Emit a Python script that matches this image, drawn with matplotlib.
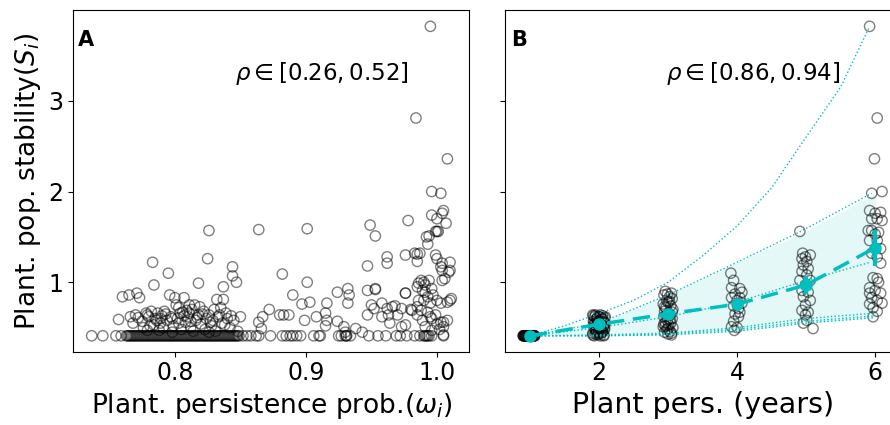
import numpy as np
import matplotlib
matplotlib.use('Agg')
import matplotlib.pyplot as plt

# ---- panel A: stability vs persistence probability ----
# points sitting on the floor value (min stability)
floor_y = 0.41
a_floor_x = [0.7365, 0.745, 0.755, 0.759, 0.763, 0.765, 0.767, 0.769, 0.771, 0.773,
             0.775, 0.777, 0.779, 0.781, 0.783, 0.785, 0.787, 0.789, 0.791, 0.793,
             0.795, 0.797, 0.799, 0.801, 0.803, 0.805, 0.807, 0.809, 0.811, 0.813,
             0.815, 0.817, 0.819, 0.821, 0.823, 0.825, 0.827, 0.829, 0.831, 0.833,
             0.835, 0.837, 0.839, 0.841, 0.843, 0.845, 0.847, 0.849, 0.852, 0.855,
             0.858, 0.862, 0.864, 0.873, 0.882, 0.885, 0.888, 0.890, 0.893, 0.896,
             0.906, 0.910, 0.911, 0.925, 0.927, 0.930, 0.931, 0.934, 0.948, 0.955,
             0.961, 0.969, 0.972, 0.977, 0.983, 0.987, 0.990, 0.992, 0.994, 0.996,
             1.005]
# second pass of the crowded floor (many species overlap there)
a_floor_x2 = [0.764, 0.766, 0.768, 0.770, 0.772, 0.774, 0.776, 0.778, 0.780, 0.782,
              0.784, 0.786, 0.788, 0.790, 0.792, 0.794, 0.796, 0.798, 0.800, 0.802,
              0.804, 0.806, 0.808, 0.810, 0.812, 0.814, 0.816, 0.818, 0.820, 0.822,
              0.824, 0.826, 0.828, 0.830, 0.832, 0.834, 0.836, 0.838, 0.840, 0.842,
              0.844, 0.846, 0.848, 0.931, 0.991, 0.993]

a_x = [0.757, 0.760, 0.765, 0.766, 0.770, 0.771, 0.773, 0.775, 0.778, 0.780,
       0.782, 0.783, 0.784, 0.785, 0.787, 0.789, 0.790, 0.792, 0.794, 0.795,
       0.796, 0.797, 0.799, 0.800, 0.801, 0.802, 0.804, 0.806, 0.807, 0.808,
       0.810, 0.811, 0.812, 0.813, 0.815, 0.816, 0.818, 0.818, 0.820, 0.822,
       0.824, 0.825, 0.826, 0.826, 0.828, 0.830, 0.832, 0.833, 0.835, 0.836,
       0.837, 0.837, 0.839, 0.840, 0.842, 0.844, 0.844, 0.845, 0.847, 0.848,
       0.850, 0.776, 0.788, 0.798, 0.805, 0.814, 0.823, 0.831, 0.803, 0.809,
       0.819, 0.829, 0.784, 0.791,
       0.768, 0.772, 0.779, 0.781, 0.786, 0.793, 0.798, 0.803, 0.807, 0.812,
       0.817, 0.821, 0.827, 0.834, 0.838, 0.843, 0.779, 0.789, 0.811, 0.826,
       0.864, 0.901, 0.949, 0.953, 0.978, 0.996, 1.000, 1.004, 1.005, 0.999,
       1.000, 1.001, 0.994, 0.993, 0.962, 0.976, 0.983, 0.987, 0.985, 0.999,
       1.000, 1.004, 1.010, 1.010, 1.004, 0.947, 0.882, 0.901, 0.890, 0.897,
       0.903, 0.916, 0.924, 0.932, 0.933, 0.932, 0.947, 0.953, 0.976, 0.872,
       0.867, 0.864, 0.866, 0.880, 0.883, 0.887, 0.899, 0.908, 0.915, 0.916,
       0.915, 0.924, 0.929, 0.930, 0.938, 0.943, 0.947, 0.950, 0.952, 0.958,
       0.962, 0.966, 0.963, 0.970, 0.973, 0.981, 0.973, 0.976, 0.964, 0.986,
       0.990, 0.994, 0.996, 0.991, 0.997, 1.004, 1.006, 0.986, 0.988, 0.990,
       0.993, 0.995, 1.000, 1.003, 1.008, 1.010, 1.011, 0.985, 0.989, 0.995,
       0.999, 1.000, 1.003, 1.005, 1.008, 0.991, 0.996, 1.005, 1.005,
       0.984, 0.995, 1.008, 0.996, 1.003, 1.007, 0.992, 0.985, 0.985, 0.962,
       1.009, 1.003, 0.988, 0.991, 0.953, 0.976, 0.989, 0.993, 0.958, 0.968,
       0.980, 0.985, 0.996, 1.002]
a_y = [0.59, 0.84, 0.86, 0.62, 0.64, 0.88, 0.83, 0.57, 0.66, 0.62,
       0.68, 1.22, 0.97, 0.60, 0.66, 0.55, 0.63, 0.68, 0.58, 1.10,
       0.86, 0.62, 0.52, 0.83, 0.75, 0.60, 0.66, 0.67, 0.83, 0.56,
       0.62, 0.75, 0.50, 0.70, 0.75, 0.58, 0.99, 0.64, 0.54, 0.68,
       0.60, 1.26, 1.57, 0.64, 0.52, 0.70, 0.81, 0.62, 0.72, 0.55,
       0.81, 0.95, 0.66, 0.60, 0.50, 1.17, 1.07, 0.58, 1.00, 0.46,
       0.62, 0.50, 0.47, 0.45, 0.48, 0.46, 0.48, 0.46, 0.72, 0.69,
       0.73, 0.58, 0.53, 0.50,
       0.55, 0.61, 0.64, 0.52, 0.58, 0.65, 0.60, 0.55, 0.63, 0.57,
       0.61, 0.65, 0.56, 0.64, 0.53, 0.63, 0.47, 0.60, 0.66, 0.45,
       1.58, 1.59, 1.63, 1.51, 1.68, 1.74, 1.70, 1.76, 1.79, 1.56,
       1.56, 1.56, 1.51, 1.42, 1.28, 1.30, 1.32, 1.32, 1.23, 1.30,
       1.26, 1.21, 1.22, 1.13, 1.13, 1.18, 1.09, 1.00, 0.86, 0.76,
       0.78, 0.77, 0.89, 0.93, 0.86, 0.77, 0.91, 0.92, 0.88, 0.70,
       0.62, 0.56, 0.49, 0.64, 0.64, 0.64, 0.58, 0.62, 0.66, 0.58,
       0.52, 0.57, 0.51, 0.45, 0.49, 0.45, 0.64, 0.75, 0.71, 0.62,
       0.71, 0.73, 0.64, 0.64, 0.71, 0.69, 0.51, 0.53, 0.55, 0.99,
       1.00, 1.02, 0.93, 0.89, 0.86, 1.02, 1.04, 0.80, 0.69, 0.80,
       0.84, 0.77, 0.80, 0.77, 0.78, 0.80, 0.82, 0.64, 0.58, 0.62,
       0.64, 0.54, 0.56, 0.56, 0.58, 0.51, 0.47, 0.51, 0.42,
       2.81, 3.82, 2.36, 2.00, 1.98, 1.65, 1.50, 0.95, 1.31, 1.21,
       1.11, 1.17, 1.02, 0.97, 0.93, 0.88, 0.91, 0.67, 0.77, 0.74,
       0.70, 0.73, 0.60, 0.48]

# ---- panel B: stability vs persistence in years ----
b1_x = [0.90, 0.905, 0.91, 0.915, 0.92, 0.925, 0.93, 0.935, 0.94, 0.945,
        0.95, 0.955, 0.96, 0.965, 0.97, 0.975, 0.98, 0.985, 0.99, 0.995,
        1.00, 1.005, 1.01, 1.015, 1.02, 1.025, 1.03, 1.035, 1.04, 1.045,
        1.05, 1.055, 1.06, 1.065, 1.07]
b1_y = [0.41] * len(b1_x)
b2_x = [1.92, 1.95, 1.98, 2.02, 2.05, 2.08, 1.93, 1.97, 2.00, 2.04,
        2.07, 1.92, 1.96, 2.01, 2.06, 2.09, 1.94, 1.99, 2.03, 2.08,
        1.91, 1.96, 2.00, 2.05, 1.93, 1.98, 2.02, 2.07,
        1.91, 1.94, 1.97, 2.00, 2.03, 2.06, 2.09, 1.92, 1.95, 1.98,
        2.01, 2.04, 2.07, 1.93, 1.96, 1.99, 2.02, 2.05, 2.08, 1.91,
        1.95, 1.99, 2.03, 2.07]
b2_y = [0.63, 0.64, 0.62, 0.64, 0.63, 0.61, 0.58, 0.59, 0.57, 0.60,
        0.56, 0.53, 0.52, 0.54, 0.51, 0.55, 0.48, 0.49, 0.47, 0.50,
        0.44, 0.45, 0.43, 0.46, 0.41, 0.42, 0.41, 0.42,
        0.64, 0.62, 0.60, 0.62, 0.61, 0.59, 0.62, 0.57, 0.55, 0.56,
        0.53, 0.57, 0.52, 0.50, 0.47, 0.51, 0.49, 0.45, 0.48, 0.42,
        0.43, 0.45, 0.44, 0.41]
b3_x = [2.96, 3.05, 2.94, 3.02, 3.06, 2.98, 3.00, 2.93, 3.04, 2.97,
        3.07, 2.95, 3.01, 3.03, 2.94, 3.06, 2.99, 2.96, 3.04, 3.01,
        2.93, 3.07, 2.98, 3.03, 2.95, 3.00, 3.05,
        2.99, 3.02, 2.95, 3.06, 2.97, 3.03, 2.94, 3.00, 3.05, 2.96]
b3_y = [0.90, 0.88, 0.86, 0.84, 0.82, 0.80, 0.78, 0.76, 0.74, 0.72,
        0.70, 0.68, 0.66, 0.64, 0.62, 0.60, 0.58, 0.56, 0.55, 0.53,
        0.51, 0.50, 0.48, 0.46, 0.45, 0.43, 0.42,
        0.87, 0.79, 0.73, 0.67, 0.63, 0.59, 0.54, 0.49, 0.44, 0.52]
b4_x = [3.91, 3.95, 3.92, 4.04, 4.07, 3.97, 3.92, 4.04, 4.00, 4.07,
        3.95, 4.02, 4.04, 3.97, 4.02, 3.95, 3.92, 4.00, 3.96]
b4_y = [1.10, 1.02, 0.94, 0.93, 0.89, 0.87, 0.83, 0.83, 0.80, 0.77,
        0.74, 0.71, 0.67, 0.65, 0.62, 0.57, 0.51, 0.50, 0.47]
b5_x = [4.91, 4.95, 4.99, 4.94, 5.06, 5.01, 4.96, 5.03, 4.94, 5.01,
        4.91, 5.06, 4.99, 4.94, 5.03, 4.96, 5.06, 4.99, 4.94, 5.03,
        4.99, 5.01, 4.96, 5.10]
b5_y = [1.56, 1.32, 1.28, 1.26, 1.30, 1.23, 1.19, 1.15, 1.12, 1.08,
        1.02, 1.02, 0.97, 0.91, 0.89, 0.84, 0.80, 0.75, 0.69, 0.67,
        0.64, 0.58, 0.55, 0.49]
b6_x = [5.92, 6.03, 5.99, 5.95, 6.10, 5.92, 6.00, 6.08, 5.95, 6.03,
        6.10, 5.90, 5.95, 6.00, 6.05, 5.92, 6.03, 6.08, 5.95, 6.03,
        6.08, 5.97, 6.03, 6.05, 5.92, 6.00, 5.92, 6.08, 5.95, 6.03,
        6.10, 5.92, 5.97, 6.03, 5.97]
b6_y = [3.82, 2.81, 2.36, 1.98, 2.00, 1.79, 1.76, 1.77, 1.70, 1.70,
        1.68, 1.57, 1.57, 1.53, 1.55, 1.46, 1.46, 1.37, 1.32, 1.28,
        1.21, 1.05, 1.04, 1.00, 0.94, 0.91, 0.88, 0.88, 0.83, 0.80,
        0.77, 0.76, 0.72, 0.68, 0.62]

years = [1, 2, 3, 4, 5, 6]
mean_stab = [0.41, 0.537, 0.652, 0.758, 0.97, 1.38]
err_stab = [0.005, 0.015, 0.02, 0.045, 0.1, 0.2]
band_lo = [0.41, 0.41, 0.42, 0.46, 0.55, 0.61]
band_hi = [0.41, 0.55, 0.86, 1.22, 1.56, 1.98]

# single species trajectories (dotted)
traj_x = [[1, 1.5, 2, 2.5, 3, 3.5, 4, 4.5, 5, 5.5, 5.92],
          [1, 2, 3, 4, 4.91, 5.95],
          [1, 2, 3, 4, 4.87, 5.93],
          [1, 2, 3, 4, 5, 6],
          [1, 2, 3, 4, 5, 6],
          [1, 2, 3, 4, 5, 6]]
traj_y = [[0.41, 0.52, 0.655, 0.80, 1.00, 1.29, 1.62, 2.04, 2.60, 3.15, 3.82],
          [0.41, 0.55, 0.86, 1.22, 1.556, 1.98],
          [0.41, 0.50, 0.62, 0.78, 0.99, 1.22],
          [0.41, 0.42, 0.44, 0.50, 0.60, 0.66],
          [0.41, 0.41, 0.43, 0.48, 0.57, 0.63],
          [0.41, 0.41, 0.42, 0.46, 0.55, 0.61]]

fig = plt.figure(figsize=(8.9, 4.25), dpi=100)
ax1 = fig.add_axes([0.0824, 0.1725, 0.4446, 0.804])
ax2 = fig.add_axes([0.5674, 0.1725, 0.4446, 0.804], sharey=ax1)

sc = dict(s=55, facecolors='none', edgecolors='k', alpha=0.5, linewidths=1)

ax1.scatter(a_floor_x, [floor_y] * len(a_floor_x), **sc)
ax1.scatter(a_floor_x2, [floor_y] * len(a_floor_x2), **sc)
ax1.scatter(a_x, a_y, **sc)
ax1.set_xlim(0.7225, 1.0245)
ax1.set_ylim(0.235, 4.0)
ax1.set_xticks([0.8, 0.9, 1.0])
ax1.set_yticks([1, 2, 3])
ax1.tick_params(labelsize=17)
ax1.set_xlabel(r'Plant. persistence prob.($\omega_i$)', fontsize=19)
ax1.set_ylabel(r'Plant. pop. stability($S_i$)', fontsize=19)
ax1.text(0.012, 0.895, 'A', transform=ax1.transAxes, fontsize=15, fontweight='bold')
ax1.text(0.628, 0.795, r'$\rho \in [0.26, 0.52]$', transform=ax1.transAxes,
         fontsize=16.5, ha='center')

ax2.fill_between(years, band_lo, band_hi, color='c', alpha=0.1, lw=0)
for tx, ty in zip(traj_x, traj_y):
    ax2.plot(tx, ty, ':', color='c', lw=1)
for gx, gy in [(b1_x, b1_y), (b2_x, b2_y), (b3_x, b3_y),
               (b4_x, b4_y), (b5_x, b5_y), (b6_x, b6_y)]:
    ax2.scatter(gx, gy, **sc)
ax2.errorbar(years, mean_stab, yerr=err_stab, fmt='o', ls=(0, (5, 2.5)),
             color='c', lw=2.5, ms=8, elinewidth=3, capsize=0, zorder=5)
ax2.set_xlim(0.638, 6.37)
ax2.set_xticks([2, 4, 6])
ax2.tick_params(labelsize=17)
plt.setp(ax2.get_yticklabels(), visible=False)
ax2.set_xlabel('Plant pers. (years)', fontsize=20.5)
ax2.text(0.0144, 0.895, 'B', transform=ax2.transAxes, fontsize=15, fontweight='bold')
ax2.text(0.6275, 0.795, r'$\rho \in [0.86, 0.94]$', transform=ax2.transAxes,
         fontsize=16.5, ha='center')

plt.savefig('out.png', dpi=100)
